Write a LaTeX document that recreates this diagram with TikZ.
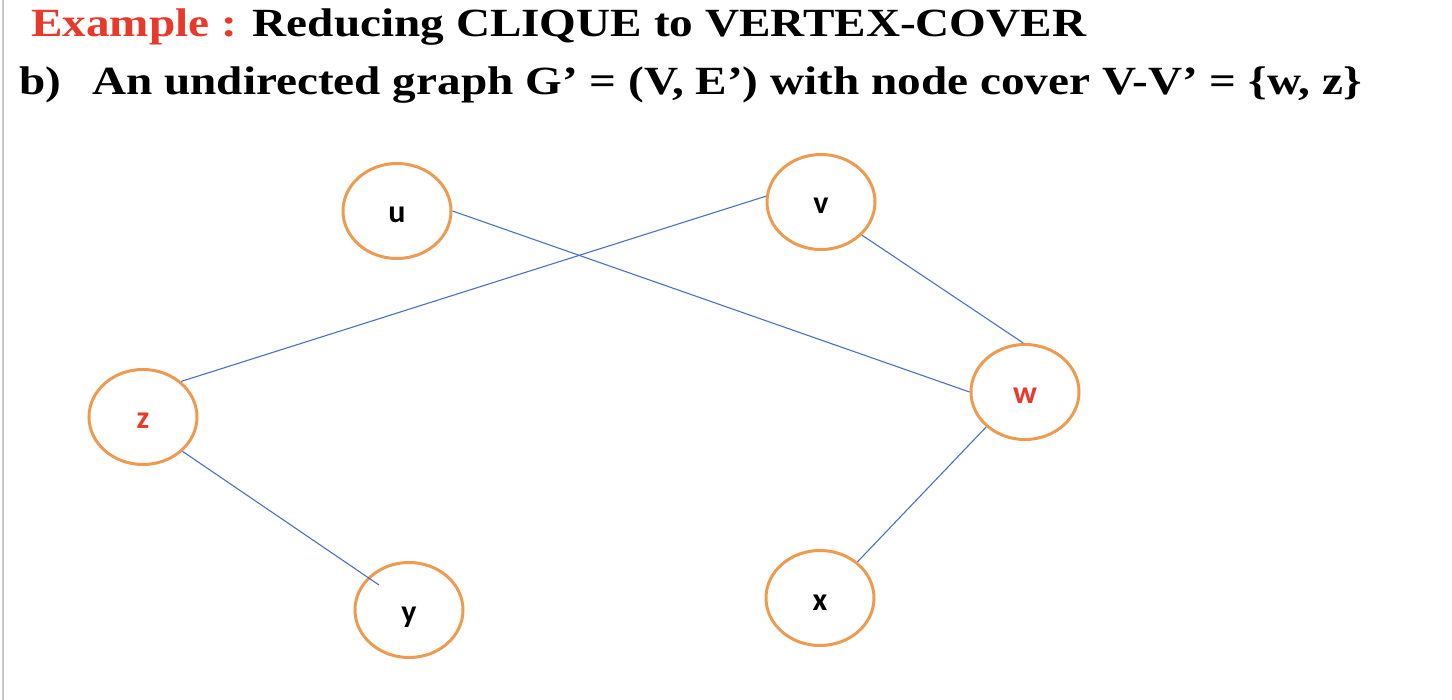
\documentclass[tikz,border=0pt]{standalone}
\usepackage{fontspec}
\setmainfont{Liberation Serif}
\newfontfamily\labelfont{Carlito}
\usetikzlibrary{shapes.geometric}
\definecolor{titlered}{HTML}{E8392B}
\definecolor{nodeorange}{HTML}{EE9B52}
\definecolor{edgeblue}{HTML}{4A72BE}
\definecolor{borderg}{HTML}{C8C8C8}
\tikzset{
  vert/.style={ellipse, draw=nodeorange, line width=3pt, minimum width=108pt, minimum height=95pt, inner sep=0pt, text height=24pt, text depth=0pt, font=\labelfont\bfseries\fontsize{32}{32}\selectfont},
  edge/.style={draw=edgeblue, line width=1.1pt},
  title/.style={anchor=base west, inner sep=0pt, xscale=1.18, transform shape, font=\bfseries\fontsize{40}{40}\selectfont}
}
\begin{document}
\begin{tikzpicture}[x=1pt,y=-1pt]
\useasboundingbox (0,0) rectangle (1452,700);
\fill[white] (0,0) rectangle (1452,700);
\draw[borderg, line width=2pt] (3,0) -- (3,700);
\node[title] (t1) at (31,37) {\textcolor{titlered}{Example :} Reducing CLIQUE to VERTEX-COVER};
\node[title] (t2a) at (19,95) {b)};
\node[title] (t2b) at (92,95) {An undirected graph G’ = (V, E’) with node cover V-V’ = \{w, z\}};
\node[vert] (u) at (397,211) {u};
\node[vert] (v) at (821,202) {v};
\node[vert] (w) at (1025,392) {\textcolor{titlered}{w}};
\node[vert] (z) at (143,417) {\textcolor{titlered}{z}};
\node[vert] (y) at (409,610) {y};
\node[vert] (x) at (820,598) {x};
\coordinate (yend) at (379,585);
\draw[edge] (u.east) -- (w.west);
\draw[edge] (v.174) -- (z.43);
\draw[edge] (v.-39) -- (w.92);
\draw[edge] (w.222) -- (x.44);
\draw[edge] (z.-41) -- (yend);
\end{tikzpicture}
\end{document}
